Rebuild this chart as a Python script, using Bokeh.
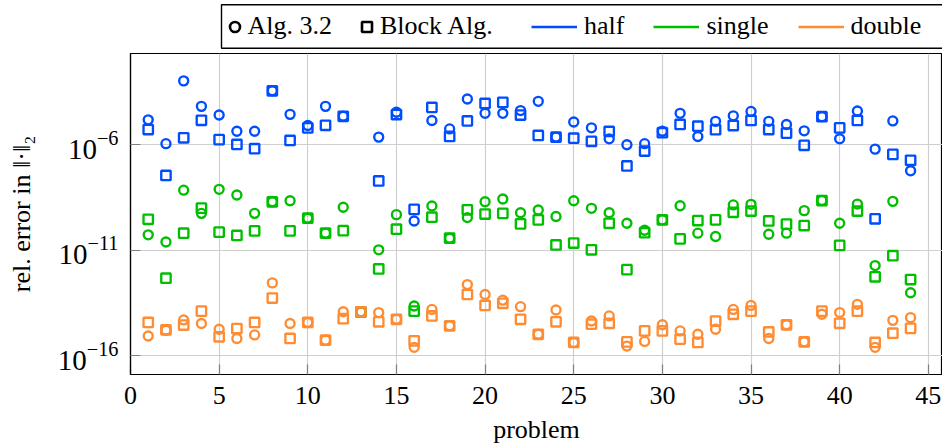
from bokeh.plotting import figure
from bokeh.layouts import column
from bokeh.models import (ColumnDataSource, FixedTicker, SingleIntervalTicker, Legend,
                          LegendItem, BoxAnnotation, Range1d)
from bokeh.embed import file_html
from bokeh.resources import INLINE

# ---------------- data (log10 of relative error) ----------------
problems = list(range(1, 45))

half_alg_log10 = [-4.81, -5.94, -2.96, -4.17, -4.58, -5.35, -5.35, -3.43, -4.55, -5.08,
                  -4.17, -4.64, -13.93, -5.63, -4.45, -9.61, -4.84, -5.24, -3.82, -4.50,
                  -4.50, -4.37, -3.93, -5.63, -4.91, -5.19, -5.71, -5.99, -5.94, -5.35,
                  -4.50, -5.60, -4.88, -4.62, -4.41, -4.88, -5.03, -5.33, -4.66, -5.71,
                  -4.39, -6.20, -4.86, -7.23]
half_block_log10 = [-5.27, -7.45, -5.66, -4.83, -5.75, -5.98, -6.18, -3.43, -5.79, -5.19,
                    -5.07, -4.64, -13.93, -7.71, -4.56, -9.06, -4.22, -5.60, -4.86, -4.03,
                    -3.98, -4.58, -5.55, -5.63, -5.68, -5.83, -5.36, -7.00, -6.29, -5.42,
                    -5.03, -5.11, -5.28, -5.08, -4.84, -5.27, -5.44, -6.02, -4.66, -5.19,
                    -4.84, -9.51, -6.45, -6.73]
single_alg_log10 = [-10.27, -10.61, -8.15, -9.25, -8.11, -8.38, -9.25, -8.70, -8.65, -9.48,
                    -10.19, -8.96, -13.93, -10.98, -9.31, -13.65, -8.90, -10.43, -9.45, -8.70,
                    -8.57, -9.22, -9.09, -9.40, -8.65, -9.01, -9.22, -9.72, -10.05, -9.56,
                    -8.89, -10.19, -10.35, -8.85, -8.82, -10.24, -10.19, -9.12, -8.64, -9.72,
                    -8.81, -11.73, -8.68, -13.02]
single_block_log10 = [-9.53, -12.33, -10.19, -9.00, -10.14, -10.30, -10.08, -8.70, -10.08, -9.48,
                      -10.19, -10.07, -13.93, -11.89, -10.00, -13.89, -9.43, -10.43, -9.08, -9.28,
                      -9.25, -9.75, -9.56, -10.75, -10.66, -10.98, -9.72, -11.92, -10.17, -9.56,
                      -10.46, -9.59, -9.56, -9.20, -9.14, -9.61, -9.76, -9.83, -8.64, -10.77,
                      -9.14, -12.26, -11.26, -12.39]
double_alg_log10 = [-15.07, -14.80, -14.31, -14.48, -14.75, -15.19, -15.02, -12.55, -14.48, -14.43,
                    -15.27, -13.92, -13.93, -13.96, -14.28, -15.61, -13.81, -14.59, -12.63, -13.10,
                    -13.37, -13.68, -14.99, -13.84, -15.38, -14.36, -14.12, -15.55, -15.33, -14.54,
                    -14.83, -14.99, -14.75, -13.81, -13.62, -15.19, -14.54, -15.35, -14.04, -13.96,
                    -13.57, -15.61, -14.33, -14.20]
double_block_log10 = [-14.43, -14.78, -14.55, -13.89, -15.11, -14.72, -14.43, -13.27, -15.19, -14.43,
                      -15.27, -14.25, -13.93, -14.40, -14.28, -15.30, -14.12, -14.59, -13.10, -13.62,
                      -13.52, -14.28, -14.99, -14.40, -15.38, -14.51, -14.47, -15.35, -14.83, -14.83,
                      -15.22, -15.38, -14.36, -14.04, -13.89, -14.88, -14.54, -15.35, -13.89, -14.47,
                      -13.89, -15.38, -14.94, -14.71]

y_tick_values = [1e-16, 1e-11, 1e-6]
x_tick_interval = 5
legend_labels = ["Alg. 3.2", "Block Alg.", "half", "single", "double"]

# ---------------- styling ----------------
FONT = "Liberation Serif"
FS = "26px"
BLUE, GREEN, ORANGE = "#004cff", "#00bf00", "#ff8c33"
GRID = "#cfcfcf"
TICK = "#808080"
W = 942
LEG_H = 52
FRAME_LEFT = 130

# ---------------- main plot ----------------
p = figure(width=W, height=446 - LEG_H, y_axis_type="log",
           x_range=Range1d(0, 45.8), y_range=Range1d(10 ** -16.9, 10 ** -1.66),
           output_backend="svg", toolbar_location=None,
           min_border_left=FRAME_LEFT, min_border_right=0, min_border_top=1, min_border_bottom=70)
p.outline_line_color = "black"
p.outline_line_width = 1.2
p.background_fill_color = "white"

xt = SingleIntervalTicker(interval=x_tick_interval)
yt = FixedTicker(ticks=y_tick_values, minor_ticks=[])
p.xaxis.ticker = xt
p.xgrid.ticker = xt
p.yaxis.ticker = yt
p.ygrid.ticker = yt
for g in (p.xgrid, p.ygrid):
    g.grid_line_color = GRID
    g.grid_line_width = 1.2

for ax in (p.xaxis[0], p.yaxis[0]):
    ax.major_tick_in = 10
    ax.major_tick_out = 0
    ax.minor_tick_line_color = None
    ax.major_tick_line_color = TICK
    ax.major_tick_line_width = 1.2
    ax.axis_line_color = "black"
    ax.axis_line_width = 1.2
    ax.major_label_text_font = FONT
    ax.major_label_text_color = "black"
    ax.axis_label_text_font = FONT
    ax.axis_label_text_font_size = FS
    ax.axis_label_text_font_style = "normal"
    ax.axis_label_text_color = "black"

p.xaxis.major_label_text_font_size = FS
p.yaxis.major_label_text_font_size = "29px"
p.xaxis.axis_label = "problem"
p.yaxis.axis_label = "rel. error in \u2016\u00b7\u2016\u2082"
p.xaxis.major_label_standoff = 8
p.xaxis.axis_label_standoff = 8
p.yaxis.major_label_standoff = 12
p.yaxis.axis_label_standoff = 19

def add_series(vals_log10, color, marker, size):
    src = ColumnDataSource(dict(x=problems, y=[10 ** v for v in vals_log10]))
    p.scatter("x", "y", source=src, marker=marker, size=size, fill_color=None,
              line_color=color, line_width=2.35)

add_series(half_alg_log10, BLUE, "circle", 9.0)
add_series(half_block_log10, BLUE, "square", 9.4)
add_series(single_alg_log10, GREEN, "circle", 9.0)
add_series(single_block_log10, GREEN, "square", 9.4)
add_series(double_alg_log10, ORANGE, "circle", 9.0)
add_series(double_block_log10, ORANGE, "square", 9.4)

# ---------------- legend strip (own small figure above the plot) ----------------
# its frame is aligned with the main frame (x from FRAME_LEFT to W), so data x == page x
lf = figure(width=W, height=LEG_H, x_range=Range1d(FRAME_LEFT, W), y_range=Range1d(0, LEG_H),
            output_backend="svg", toolbar_location=None,
            x_axis_location=None, y_axis_location=None,
            min_border_left=FRAME_LEFT, min_border_right=0, min_border_top=0, min_border_bottom=0)
lf.outline_line_color = None
lf.grid.visible = False

nan = float("nan")
r_c = lf.scatter(x=[nan], y=[nan], marker="circle", fill_color=None, line_color="black", line_width=2.6)
r_s = lf.scatter(x=[nan], y=[nan], marker="square", fill_color=None, line_color="black", line_width=2.6)
r_h = lf.line(x=[nan, nan], y=[nan, nan], line_color=BLUE, line_width=2.3)
r_si = lf.line(x=[nan, nan], y=[nan, nan], line_color=GREEN, line_width=2.3)
r_d = lf.line(x=[nan, nan], y=[nan, nan], line_color=ORANGE, line_width=2.3)

common = dict(orientation="horizontal", padding=0, margin=0, border_line_alpha=0,
              background_fill_alpha=0, label_text_font=FONT, label_text_font_size=FS,
              label_text_color="black")
leg_m = Legend(items=[LegendItem(label=legend_labels[0], renderers=[r_c]),
                      LegendItem(label=legend_labels[1], renderers=[r_s])],
               location=(221.5 - FRAME_LEFT, 11), glyph_width=25, glyph_height=25,
               label_standoff=1, spacing=22, **common)
leg_l = Legend(items=[LegendItem(label=legend_labels[2], renderers=[r_h]),
                      LegendItem(label=legend_labels[3], renderers=[r_si]),
                      LegendItem(label=legend_labels[4], renderers=[r_d])],
               location=(531 - FRAME_LEFT, 11), glyph_width=46, glyph_height=25,
               label_standoff=7, spacing=29, **common)
lf.add_layout(leg_m, "center")
lf.add_layout(leg_l, "center")

box = BoxAnnotation(left=221, right=W + 20, bottom=4.3, top=47.7,
                    fill_alpha=0, line_color="black", line_width=1.4, line_alpha=1)
lf.add_layout(box)

layout = column(lf, p, spacing=0)
open("out.html", "w").write(file_html(layout, INLINE))
